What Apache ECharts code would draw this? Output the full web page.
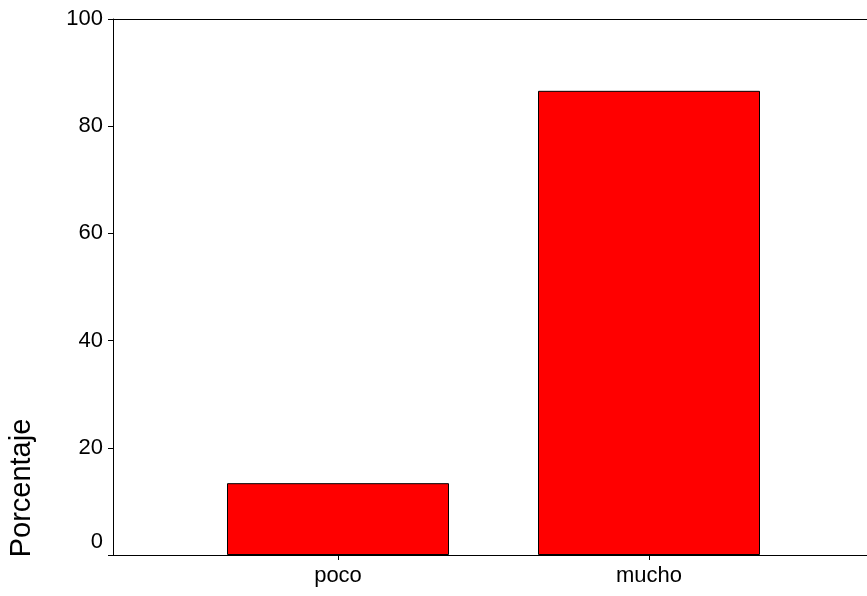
<!DOCTYPE html>
<html>
<head>
<meta charset="utf-8">
<script src="https://cdn.jsdelivr.net/npm/echarts@6/dist/echarts.min.js"></script>
<style>html,body{margin:0;padding:0;background:#fff}#c{width:867px;height:596px}</style>
</head>
<body>
<div id="c"></div>
<script>
var categories = ['poco', 'mucho'];
var values = [13.4, 86.6];
var yTicks = [0, 20, 40, 60, 80, 100];
var yTitle = 'Porcentaje';

var chart = echarts.init(document.getElementById('c'), null, {renderer: 'canvas'});
var font = '"Liberation Sans", Arial, sans-serif';
var option = {
  animation: false,
  backgroundColor: '#fff',
  grid: [
    {left: 113, right: 0, top: 19, bottom: 41},
    {left: 182.5, right: 62.5, top: 19, bottom: 41}
  ],
  xAxis: [
    {gridIndex: 0, type: 'value', min: 0, max: 1, position: 'bottom',
     axisLine: {show: true, lineStyle: {color: '#000', width: 1}},
     axisTick: {show: false}, axisLabel: {show: false}, splitLine: {show: false}},
    {gridIndex: 0, type: 'value', min: 0, max: 1, position: 'top',
     axisLine: {show: true, onZero: false, lineStyle: {color: '#000', width: 1}},
     axisTick: {show: false}, axisLabel: {show: false}, splitLine: {show: false}},
    {gridIndex: 1, type: 'category', data: categories, position: 'bottom',
     axisLine: {show: false},
     axisTick: {show: true, alignWithLabel: true, length: 5, lineStyle: {color: '#000'}},
     axisLabel: {color: '#000', fontSize: 22, fontFamily: font, margin: 10},
     splitLine: {show: false}}
  ],
  yAxis: [
    {gridIndex: 0, type: 'value', min: yTicks[0], max: yTicks[yTicks.length - 1], interval: 20,
     axisLine: {show: true, lineStyle: {color: '#000', width: 1}},
     axisTick: {show: true, length: 5, lineStyle: {color: '#000'}},
     axisLabel: {color: '#000', fontSize: 22, fontFamily: font, margin: 10,
       formatter: function (v) { return v === yTicks[0] ? '{z|' + v + '}' : String(v); },
       rich: {z: {fontSize: 22, fontFamily: font, color: '#000', padding: [0, 0, 26, 0]}}},
     splitLine: {show: false}},
    {gridIndex: 1, type: 'value', min: yTicks[0], max: yTicks[yTicks.length - 1],
     show: false, splitLine: {show: false}}
  ],
  series: [{
    type: 'bar', xAxisIndex: 2, yAxisIndex: 1,
    data: values, barWidth: 222,
    itemStyle: {color: '#ff0000', borderColor: '#000', borderWidth: 1}
  }],
  graphic: [{
    type: 'text', x: 22, y: 488, rotation: Math.PI / 2,
    style: {text: yTitle, fill: '#000', font: '29px "Liberation Sans", Arial, sans-serif',
            textAlign: 'center', textVerticalAlign: 'middle'}
  }]
};
chart.setOption(option);
</script>
</body>
</html>
